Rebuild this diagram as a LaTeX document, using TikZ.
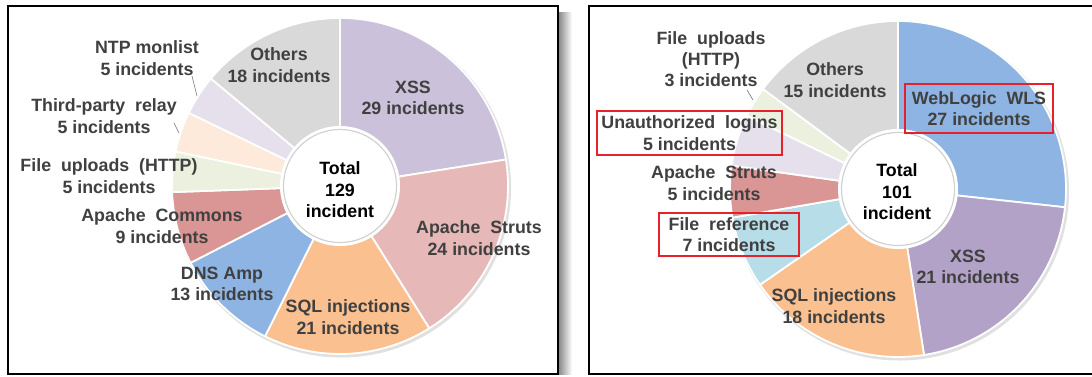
\documentclass[tikz,border=0pt]{standalone}
\usepackage{fontspec}
\setmainfont{Liberation Sans}
\usetikzlibrary{calc}
\definecolor{txt}{HTML}{404040}
\definecolor{cPurpleL}{HTML}{CCC1DA}
\definecolor{cPurple}{HTML}{B3A2C7}
\definecolor{cPink}{HTML}{E6B9B8}
\definecolor{cOrange}{HTML}{FAC090}
\definecolor{cBlue}{HTML}{8EB4E3}
\definecolor{cRed}{HTML}{D99694}
\definecolor{cGreen}{HTML}{EBF1DE}
\definecolor{cPeach}{HTML}{FDEADA}
\definecolor{cLav}{HTML}{E6E0EC}
\definecolor{cGray}{HTML}{D9D9D9}
\definecolor{cCyan}{HTML}{B7DEE8}
\definecolor{boxred}{HTML}{E5212B}
\newcommand\donutslice[4]{%
  \fill[#4, draw=white, line width=1.8pt, line join=round]
    (#1) -- ($(#1)+(#2:168pt)$) arc[start angle=#2, end angle=#3, radius=168pt] -- cycle;}
\begin{document}
\begin{tikzpicture}[x=1pt,y=-1pt,
  lab/.style={text=txt, align=center, font=\bfseries\fontsize{17.8}{21.3}\selectfont, inner sep=1pt},
  tot/.style={text=black, align=center, font=\bfseries\fontsize{17.8}{21.5}\selectfont},
  redbox/.style={lab, draw=boxred, line width=2.6pt, inner sep=0pt},
  leader/.style={draw=black!55, line width=0.6pt},
  panel/.style={draw=black, line width=1.8pt}]
\useasboundingbox (0,0) rectangle (1092,376);
\fill[white] (0,0) rectangle (1092,376);
% panel shadow
\shade[left color=black!45, right color=white] (559,12) rectangle (572,374);
\draw[panel] (8,6) rectangle (558,374);
\draw[panel] (1092,6) -- (589,6) -- (589,374) -- (1092,374);

% ---------- left donut ----------
\coordinate (cL) at (340,186);
\fill[black!12] ($(cL)+(1.5pt,-2pt)$) circle[radius=169.5pt];
\donutslice{cL}{90}{9.07}{cPurpleL}
\donutslice{cL}{9.07}{-57.91}{cPink}
\donutslice{cL}{-57.91}{-116.51}{cOrange}
\donutslice{cL}{-116.51}{-152.79}{cBlue}
\donutslice{cL}{-152.79}{-177.91}{cRed}
\donutslice{cL}{-177.91}{-191.86}{cGreen}
\donutslice{cL}{-191.86}{-205.81}{cPeach}
\donutslice{cL}{-205.81}{-219.77}{cLav}
\donutslice{cL}{-219.77}{-270}{cGray}
\fill[white] (cL) circle[radius=60pt];
\draw[black!18, line width=1.2pt] (cL) circle[radius=56.5pt];
\fill[white] (cL) circle[radius=55.5pt];

\node[tot] (totL) at (340,190) {Total\\129\\incident};
\node[lab] (lXSS) at (413,98) {XSS\\29 incidents};
\node[lab] (lOth) at (279,65) {Others\\18 incidents};
\node[lab] (lNTP) at (147,58) {NTP monlist\\5 incidents};
\node[lab] (lRel) at (104,116) {Third-party~~relay\\5 incidents};
\node[lab] (lUpl) at (109,176) {File~~uploads~~(HTTP)\\5 incidents};
\node[lab] (lCom) at (162,226) {Apache~~Commons\\9 incidents};
\node[lab] (lDNS) at (222,284) {DNS Amp\\13 incidents};
\node[lab] (lSQL) at (348,317) {SQL injections\\21 incidents};
\node[lab] (lStr) at (479,238) {Apache~~Struts\\24 incidents};
\coordinate (nA) at (192,76); \coordinate (nB) at (197,96);
\coordinate (rA) at (174,123); \coordinate (rB) at (179,133);
\draw[leader] (nA) -- (nB);
\draw[leader] (rA) -- (rB);

% ---------- right donut ----------
\coordinate (cR) at (898,189);
\fill[black!12] ($(cR)+(1.5pt,-2pt)$) circle[radius=169.5pt];
\donutslice{cR}{90}{-6.24}{cBlue}
\donutslice{cR}{-6.24}{-81.09}{cPurple}
\donutslice{cR}{-81.09}{-145.25}{cOrange}
\donutslice{cR}{-145.25}{-170.20}{cCyan}
\donutslice{cR}{-170.20}{-188.02}{cRed}
\donutslice{cR}{-188.02}{-205.84}{cLav}
\donutslice{cR}{-205.84}{-216.53}{cGreen}
\donutslice{cR}{-216.53}{-270}{cGray}
\fill[white] (cR) circle[radius=60pt];
\draw[black!18, line width=1.2pt] (cR) circle[radius=56.5pt];
\fill[white] (cR) circle[radius=55.5pt];

\node[tot] (totR) at (897,192) {Total\\101\\incident};
\node[lab] (rUpl) at (711,59) {File~~uploads\\(HTTP)\\3 incidents};
\node[lab] (rOth) at (835,80) {Others\\15 incidents};
\node[redbox, minimum width=148pt, minimum height=49pt] (rWLS) at (979,108.5) {WebLogic~~WLS\\27 incidents};
\node[redbox, minimum width=185pt, minimum height=44pt] (rUna) at (689.5,133) {Unauthorized~~logins\\5 incidents};
\node[lab] (rStr) at (714,183) {Apache~~Struts\\5 incidents};
\node[redbox, minimum width=140pt, minimum height=43pt] (rRef) at (729,234.5) {File~~reference\\7 incidents};
\node[lab] (rXSS) at (968,267) {XSS\\21 incidents};
\node[lab] (rSQL) at (834,306) {SQL injections\\18 incidents};
\coordinate (uA) at (747,90); \coordinate (uB) at (753,100);
\draw[leader] (uA) -- (uB);
\end{tikzpicture}
\end{document}
